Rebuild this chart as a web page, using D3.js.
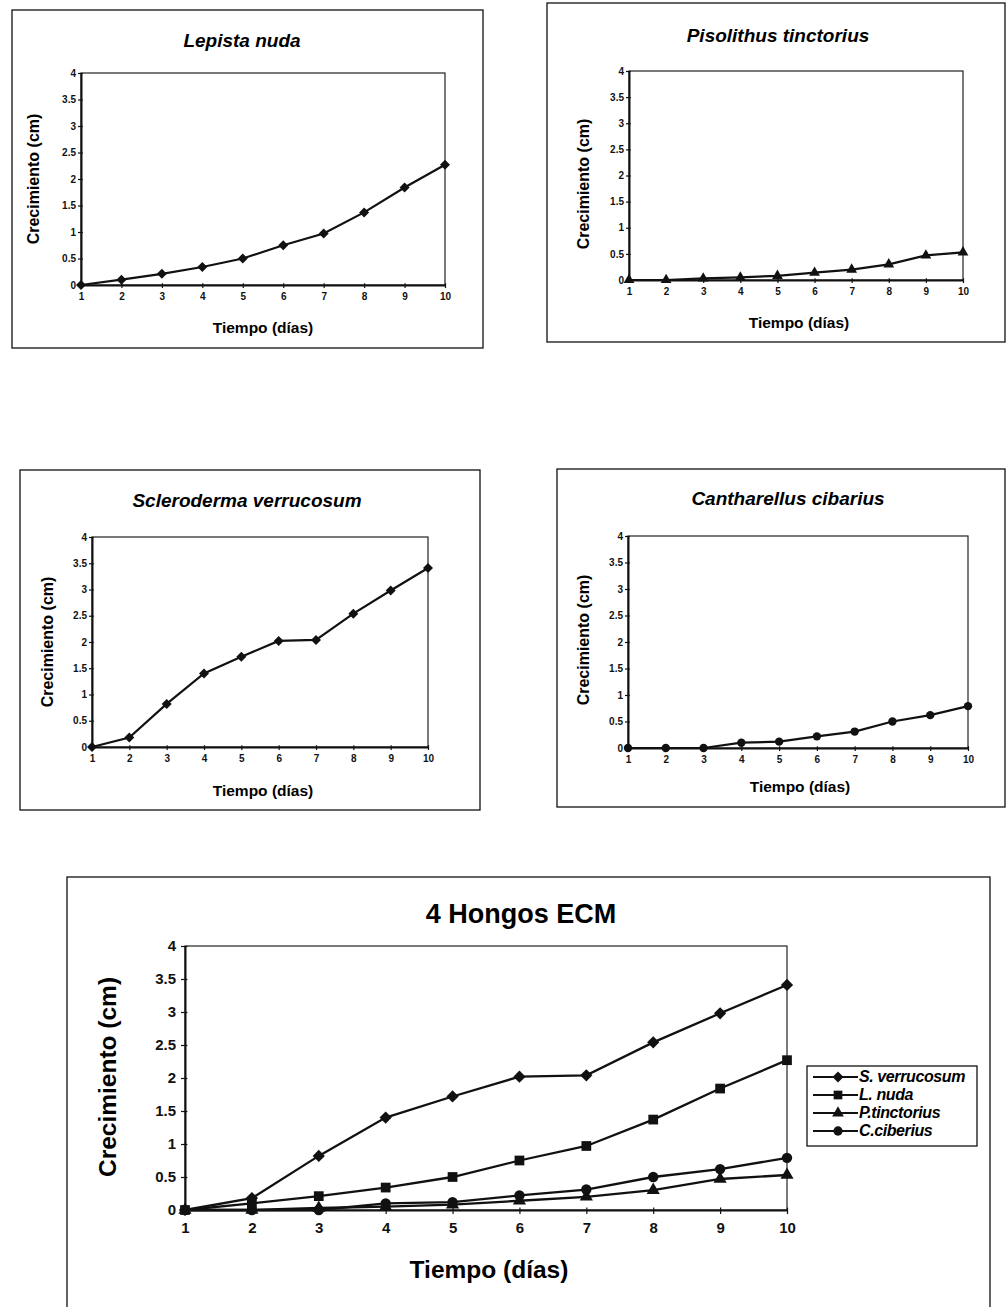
<!DOCTYPE html>
<html>
<head>
<meta charset="utf-8">
<script src="https://cdn.jsdelivr.net/npm/d3@7"></script>
<style>
  body { margin: 0; background: #fff; }
  svg { display: block; font-family: "Liberation Sans", Arial, sans-serif; }
</style>
</head>
<body>
<svg id="chart" width="1006" height="1307"></svg>
<script>
// dias de medida y ejes
var dias = [1, 2, 3, 4, 5, 6, 7, 8, 9, 10];
var yTicks = [0, 0.5, 1, 1.5, 2, 2.5, 3, 3.5, 4];
var yTickLabels = ["0", "0.5", "1", "1.5", "2", "2.5", "3", "3.5", "4"];

// crecimiento (cm) de cada hongo
var lepistaNuda = [0, 0.1, 0.21, 0.34, 0.5, 0.75, 0.97, 1.37, 1.84, 2.27];
var pisolithusTinctorius = [0, 0, 0.03, 0.05, 0.08, 0.14, 0.2, 0.3, 0.47, 0.53];
var sclerodermaVerrucosum = [0, 0.18, 0.82, 1.4, 1.72, 2.02, 2.04, 2.54, 2.98, 3.41];
var cantharellusCibarius = [0, 0, 0, 0.1, 0.12, 0.22, 0.31, 0.5, 0.62, 0.79];

var smallTitles = ["Lepista nuda", "Pisolithus tinctorius", "Scleroderma verrucosum", "Cantharellus cibarius"];
var legendNames = ["S. verrucosum", "L. nuda", "P.tinctorius", "C.ciberius"];
var bigTitle = "4 Hongos ECM";
var xTitle = "Tiempo (días)";
var yTitle = "Crecimiento (cm)";

var svg = d3.select("#chart");

// diamond = square turned 45 degrees, as Excel draws it
function marker(kind, size){
	if(kind == "diamond") return {path: d3.symbol(d3.symbolSquare, size)(), rot: 45};
	if(kind == "square") return {path: d3.symbol(d3.symbolSquare, size)(), rot: 0};
	if(kind == "triangle") return {path: d3.symbol(d3.symbolTriangle, size)(), rot: 0};
	return {path: d3.symbol(d3.symbolCircle, size)(), rot: 0};
}

function drawChart(opt){
	var g = svg.append("g");

	// outer frame
	g.append("rect")
		.attr("x", opt.box[0]).attr("y", opt.box[1])
		.attr("width", opt.box[2] - opt.box[0]).attr("height", opt.box[3] - opt.box[1])
		.attr("fill", "none").attr("stroke", "#111").attr("stroke-width", 1.3);

	var x = d3.scaleLinear().domain([1, 10]).range([opt.plot[0], opt.plot[2]]);
	var y = d3.scaleLinear().domain([0, 4]).range([opt.plot[3], opt.plot[1]]);

	// plot area frame
	g.append("rect")
		.attr("x", opt.plot[0]).attr("y", opt.plot[1])
		.attr("width", opt.plot[2] - opt.plot[0]).attr("height", opt.plot[3] - opt.plot[1])
		.attr("fill", "none").attr("stroke", "#222").attr("stroke-width", 1.2);

	var ya = g.append("g")
		.attr("transform", "translate(" + opt.plot[0] + ",0)")
		.call(d3.axisLeft(y).tickValues(yTicks).tickFormat(function(d, i){ return yTickLabels[i]; })
			.tickSize(opt.tick).tickSizeOuter(0).tickPadding(opt.pad));
	ya.selectAll(".tick line").attr("x2", -opt.tick).attr("x1", opt.tick * 0.6);

	var xa = g.append("g")
		.attr("transform", "translate(0," + opt.plot[3] + ")")
		.call(d3.axisBottom(x).tickValues(dias).tickFormat(d3.format("d"))
			.tickSize(opt.tick).tickSizeOuter(0).tickPadding(opt.pad + 3));
	xa.selectAll(".tick line").attr("y1", -opt.tick * 0.6);

	[ya, xa].forEach(function(a){
		a.select(".domain").attr("stroke", "#111").attr("stroke-width", 2);
		a.selectAll(".tick line").attr("stroke", "#111").attr("stroke-width", 1.2);
		a.selectAll(".tick text")
			.style("font-size", opt.tickFont + "px").style("font-weight", "bold").attr("fill", "#111");
	});

	// titles
	g.append("text")
		.attr("x", opt.titleX).attr("y", opt.titleY)
		.attr("text-anchor", "middle")
		.style("font-size", opt.titleFont + "px").style("font-weight", "bold")
		.style("font-style", opt.italic ? "italic" : "normal")
		.text(opt.title);
	g.append("text")
		.attr("x", opt.xTitleX).attr("y", opt.xTitleY)
		.attr("text-anchor", "middle")
		.style("font-size", opt.axisFont + "px").style("font-weight", "bold")
		.text(xTitle);
	g.append("text")
		.attr("transform", "translate(" + opt.yTitleX + "," + opt.yTitleY + ") rotate(-90)")
		.attr("text-anchor", "middle")
		.style("font-size", opt.yFont + "px").style("font-weight", "bold")
		.text(yTitle);

	var line = d3.line()
		.x(function(d, i){ return x(dias[i]); })
		.y(function(d){ return y(d); });

	opt.series.forEach(function(s){
		g.append("path")
			.datum(s.values)
			.attr("d", line)
			.attr("fill", "none").attr("stroke", "#111").attr("stroke-width", opt.lineW);
		var m = marker(s.kind, s.size);
		g.selectAll(null)
			.data(s.values)
			.enter().append("path")
			.attr("d", m.path)
			.attr("transform", function(d, i){ return "translate(" + x(dias[i]) + "," + y(d) + ") rotate(" + m.rot + ")"; })
			.attr("fill", "#111");
	});
	return g;
}

var small = {tick: 3, pad: 2, tickFont: 10, titleFont: 19, axisFont: 15.5, yFont: 16, lineW: 2.2, italic: true};

drawChart(Object.assign({}, small, {
	box: [12, 10, 483, 348], plot: [81, 73, 445, 285],
	title: smallTitles[0], titleX: 242, titleY: 47,
	xTitleX: 263, xTitleY: 333, yTitleX: 39, yTitleY: 179,
	series: [{values: lepistaNuda, kind: "diamond", size: 50}]
}));
drawChart(Object.assign({}, small, {
	box: [547, 3, 1005, 342], plot: [629, 71, 963, 280],
	title: smallTitles[1], titleX: 778, titleY: 42,
	xTitleX: 799, xTitleY: 328, yTitleX: 589, yTitleY: 184,
	series: [{values: pisolithusTinctorius, kind: "triangle", size: 50}]
}));
drawChart(Object.assign({}, small, {
	box: [20, 470, 480, 810], plot: [92, 537, 428, 747],
	title: smallTitles[2], titleX: 247, titleY: 507,
	xTitleX: 263, xTitleY: 796, yTitleX: 53, yTitleY: 642,
	series: [{values: sclerodermaVerrucosum, kind: "diamond", size: 50}]
}));
drawChart(Object.assign({}, small, {
	box: [557, 469, 1005, 807], plot: [628, 536, 968, 748],
	title: smallTitles[3], titleX: 788, titleY: 505,
	xTitleX: 800, xTitleY: 792, yTitleX: 589, yTitleY: 640,
	series: [{values: cantharellusCibarius, kind: "circle", size: 55}]
}));

// combined chart
var bigSeries = [
	{values: sclerodermaVerrucosum, kind: "diamond", size: 75},
	{values: lepistaNuda, kind: "square", size: 95},
	{values: pisolithusTinctorius, kind: "triangle", size: 75},
	{values: cantharellusCibarius, kind: "circle", size: 85}
];
drawChart({
	tick: 4, pad: 5, tickFont: 15, titleFont: 27, axisFont: 24.5, yFont: 24.5, lineW: 2.3, italic: false,
	box: [67, 877, 990, 1330], plot: [185, 946, 787, 1210],
	title: bigTitle, titleX: 521, titleY: 923,
	xTitleX: 489, xTitleY: 1278, yTitleX: 116, yTitleY: 1077,
	series: bigSeries
});

// legend
var lg = svg.append("g");
lg.append("rect")
	.attr("x", 807).attr("y", 1066).attr("width", 170).attr("height", 80)
	.attr("fill", "#fff").attr("stroke", "#111").attr("stroke-width", 1.3);
bigSeries.forEach(function(s, i){
	var ly = 1077 + i * 18;
	lg.append("line")
		.attr("x1", 813).attr("x2", 858).attr("y1", ly).attr("y2", ly)
		.attr("stroke", "#111").attr("stroke-width", 2);
	var m = marker(s.kind, s.size * 0.8);
	lg.append("path")
		.attr("d", m.path)
		.attr("transform", "translate(838," + ly + ") rotate(" + m.rot + ")")
		.attr("fill", "#111");
	lg.append("text")
		.attr("x", 859).attr("y", ly + 5)
		.style("font-size", "16px").style("font-style", "italic").style("font-weight", "bold")
		.style("letter-spacing", "-0.4px")
		.text(legendNames[i]);
});
</script>
</body>
</html>
